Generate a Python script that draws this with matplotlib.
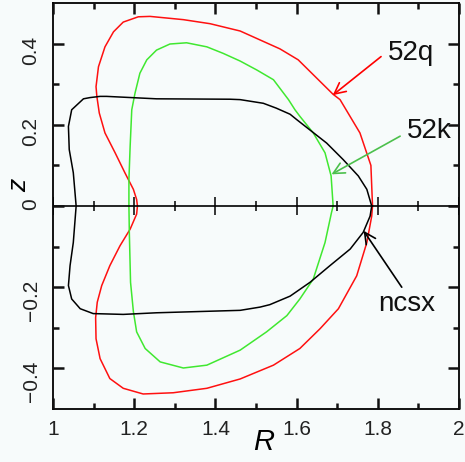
import matplotlib
matplotlib.use('Agg')
import matplotlib.pyplot as plt
from matplotlib.ticker import FixedLocator, FixedFormatter

plt.rcParams['font.family'] = ['Liberation Sans', 'DejaVu Sans']

# boundary shapes, (R, z) going round each curve
r_52q = [1.787, 1.783, 1.756, 1.707, 1.690, 1.604, 1.559, 1.461, 1.387, 1.321, 1.239, 1.210,
         1.173, 1.149, 1.128, 1.112, 1.106, 1.108, 1.114, 1.128, 1.153, 1.177, 1.198, 1.206,
         1.208, 1.206, 1.190, 1.165, 1.140, 1.120, 1.109, 1.105, 1.106, 1.116, 1.140, 1.173,
         1.222, 1.296, 1.379, 1.461, 1.543, 1.608, 1.658, 1.703, 1.748, 1.773, 1.785, 1.787]
z_52q = [0.0, 0.100, 0.180, 0.262, 0.275, 0.360, 0.387, 0.431, 0.449, 0.459, 0.467, 0.466,
         0.453, 0.429, 0.392, 0.343, 0.294, 0.270, 0.229, 0.180, 0.131, 0.082, 0.041, 0.016,
         0.0, -0.020, -0.057, -0.098, -0.147, -0.196, -0.237, -0.275, -0.327, -0.376, -0.425, -0.449,
         -0.463, -0.460, -0.449, -0.426, -0.392, -0.351, -0.302, -0.253, -0.172, -0.090, -0.025, 0.0]

r_52k = [1.690, 1.685, 1.670, 1.641, 1.608, 1.596, 1.580, 1.543, 1.502, 1.461, 1.419, 1.379,
         1.329, 1.288, 1.255, 1.231, 1.214, 1.202, 1.194, 1.190, 1.187, 1.187, 1.188, 1.191,
         1.198, 1.206, 1.227, 1.264, 1.321, 1.379, 1.461, 1.526, 1.576, 1.608, 1.641, 1.670,
         1.686, 1.690]
z_52k = [0.0, 0.074, 0.131, 0.180, 0.221, 0.237, 0.262, 0.311, 0.335, 0.357, 0.376, 0.392,
         0.402, 0.399, 0.384, 0.360, 0.327, 0.278, 0.237, 0.147, 0.065, 0.0, -0.065, -0.188,
         -0.260, -0.310, -0.351, -0.384, -0.399, -0.392, -0.355, -0.310, -0.270, -0.229, -0.180, -0.090,
         -0.016, 0.0]

r_ncsx = [1.785, 1.773, 1.752, 1.715, 1.674, 1.637, 1.600, 1.584, 1.550, 1.518, 1.461, 1.436,
          1.255, 1.132, 1.116, 1.091, 1.075, 1.046, 1.038, 1.040, 1.050, 1.057, 1.050, 1.042,
          1.038, 1.046, 1.067, 1.099, 1.173, 1.255, 1.461, 1.510, 1.534, 1.584, 1.633, 1.682,
          1.732, 1.764, 1.781, 1.785]
z_ncsx = [0.0, 0.041, 0.074, 0.114, 0.155, 0.184, 0.213, 0.226, 0.241, 0.253, 0.262, 0.263,
          0.264, 0.270, 0.270, 0.267, 0.264, 0.237, 0.196, 0.139, 0.082, 0.0, -0.090, -0.147,
          -0.196, -0.229, -0.253, -0.265, -0.267, -0.263, -0.257, -0.249, -0.243, -0.222, -0.188, -0.147,
          -0.106, -0.065, -0.025, 0.0]

xticks = [1.0, 1.2, 1.4, 1.6, 1.8, 2.0]
xticklabels = ['1', '1.2', '1.4', '1.6', '1.8', '2']
xminor = [1.1, 1.3, 1.5, 1.7, 1.9]
yticks = [-0.4, -0.2, 0.0, 0.2, 0.4]
yticklabels = ['\u22120.4', '\u22120.2', '0', '0.2', '0.4']
yminor = [-0.3, -0.1, 0.1, 0.3]

# label, text position, arrow start, arrow tip, colour
notes = [
    ('52q', (1.825, 0.377), (1.808, 0.368), (1.689, 0.273), '#ff0000'),
    ('52k', (1.871, 0.185), (1.855, 0.172), (1.686, 0.078), '#4cc04c'),
    ('ncsx', (1.800, -0.241), (1.859, -0.200), (1.765, -0.061), 'black'),
]

fig = plt.figure(figsize=(4.65, 4.62), dpi=100, facecolor='#f7fbfb')
ax = fig.add_axes([53/465, 53/462, 406/465, 406/462])
ax.set_facecolor('#f7fbfb')

ax.plot(r_52q, z_52q, color='#ff1010', lw=1.1)
ax.plot(r_52k, z_52k, color='#40e830', lw=1.1)
ax.plot(r_ncsx, z_ncsx, color='black', lw=1.1)

# midplane line with its own ticks
ax.axhline(0, color='black', lw=1.2)
ax.vlines(xticks, -0.022, 0.022, color='black', lw=1.1)
ax.vlines(xminor, -0.013, 0.013, color='black', lw=1.1)

ax.set_xlim(1, 2)
ax.set_ylim(-0.5, 0.5)

ax.xaxis.set_major_locator(FixedLocator(xticks))
ax.xaxis.set_major_formatter(FixedFormatter(xticklabels))
ax.xaxis.set_minor_locator(FixedLocator(xminor))
ax.yaxis.set_major_locator(FixedLocator(yticks))
ax.yaxis.set_major_formatter(FixedFormatter(yticklabels))
ax.yaxis.set_minor_locator(FixedLocator(yminor))

ax.tick_params(which='both', direction='in', top=True, right=True, width=1.8,
               color='#111111', labelcolor='#222222', labelsize=15)
ax.tick_params(which='major', length=8)
ax.tick_params(which='minor', length=4.5)
ax.tick_params(axis='x', pad=8)
ax.tick_params(axis='y', pad=9, labelrotation=90)
ax.set_axisbelow(False)
for s in ax.spines.values():
    s.set_linewidth(1.3)

for txt, tpos, start, tip, col in notes:
    ax.annotate('', xy=tip, xytext=start,
                arrowprops=dict(arrowstyle='->', color=col, lw=1.2, mutation_scale=20,
                                shrinkA=0, shrinkB=0))
    ax.text(tpos[0], tpos[1], txt, fontsize=20, color='#111111', ha='left', va='center')

fig.text(264/465, 1-442/462, 'R', fontsize=21, style='italic', ha='center', va='center')
fig.text(19/465, 1-185/462, 'z', fontsize=19, style='italic', rotation=90,
         ha='center', va='center')

fig.savefig('out.png', dpi=100)
